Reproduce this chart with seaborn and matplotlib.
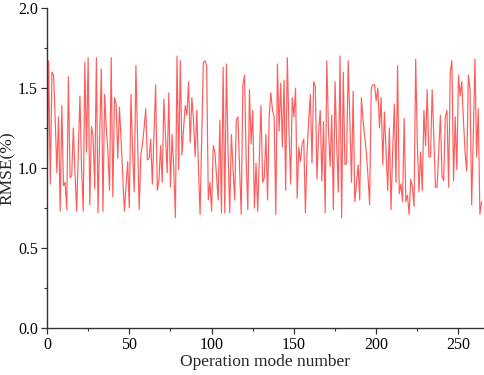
import matplotlib
matplotlib.use("Agg")
import matplotlib.pyplot as plt
import seaborn as sns
import numpy as np
import pandas as pd
from matplotlib.ticker import MultipleLocator

seg1 = [0.75, 1.67, 0.90, 1.60, 1.58, 1.30, 0.97, 1.32, 0.73, 1.39, 0.89, 0.91, 0.74, 1.57, 0.94, 0.95, 1.25, 0.98, 0.73, 1.10,
        1.45, 1.00, 0.73, 1.66, 1.10, 1.69, 0.77, 1.26, 1.20, 0.87, 1.69, 0.72, 1.20, 1.62]
seg2 = [0.73, 1.46, 1.25, 1.10, 0.86, 1.69, 0.82, 1.44, 1.40, 1.06, 1.38, 1.18, 0.95, 0.73, 0.88, 1.04, 0.75, 1.46, 1.10, 0.85,
        1.64, 1.20, 0.74, 1.08, 1.15, 1.25, 1.37, 1.05, 1.06, 1.18, 0.90, 1.20, 1.52]
seg3 = [0.86, 0.92, 1.14, 0.91, 1.43, 1.20, 0.97, 1.47, 0.88, 1.21, 1.00, 0.69, 1.70, 0.99, 1.67, 1.08, 1.25, 1.39, 1.33, 1.54,
        1.16, 1.44, 1.30, 1.07, 1.36, 1.00, 0.71, 1.20, 1.66, 1.67, 1.64, 0.80, 0.91]
seg4 = [0.73, 1.14, 1.10, 0.95, 0.80, 1.30, 0.72, 1.63, 0.72, 1.65, 1.10, 0.72, 1.21, 1.00, 0.80, 1.30, 1.32, 1.00, 0.71, 1.52,
        1.58, 1.05, 0.74, 1.49, 1.15, 1.36, 0.75, 1.03, 0.73, 1.05, 1.39, 0.91, 0.94]
seg5 = [1.21, 0.80, 1.33, 1.47, 1.36, 1.32, 0.71, 1.65, 1.23, 1.53, 1.13, 1.55, 0.86, 1.69, 1.25, 0.90, 1.44, 1.32, 1.50, 0.81,
        1.13, 1.04, 1.15, 1.18, 0.72, 1.10, 1.30, 1.46, 1.03, 1.54, 1.51, 0.93, 1.22]
seg6 = [1.36, 0.92, 1.29, 0.72, 1.67, 1.25, 1.01, 1.33, 0.74, 1.54, 1.15, 0.85, 1.70, 0.69, 1.60, 1.02, 1.03, 1.67, 1.30, 0.91,
        1.48, 0.79, 0.90, 1.02, 0.80, 1.44, 1.30, 1.20, 1.10, 0.95, 0.77, 1.50, 1.52]
seg7 = [1.52, 1.42, 1.50, 1.25, 1.44, 1.02, 1.35, 1.10, 0.86, 1.25, 0.74, 1.10, 1.40, 0.91, 1.64, 0.84, 0.90, 0.79, 1.31, 0.79,
        0.83, 0.71, 0.93, 0.88, 0.76, 1.68, 1.15, 0.85, 1.10, 0.86, 1.36, 1.14, 1.49, 1.07]
seg8 = [1.07, 1.49, 1.20, 0.88, 0.88, 1.10, 1.33, 0.95, 0.92, 1.32, 1.36, 0.88, 1.60, 1.67, 0.92, 1.32, 0.99, 1.58, 1.45, 1.54,
        1.30, 1.10, 0.98, 1.58, 1.49, 0.77, 1.20, 1.68, 1.07, 1.37, 0.71, 0.79]

rmse = seg1 + seg2 + seg3 + seg4 + seg5 + seg6 + seg7 + seg8
mode = list(range(len(rmse)))

df = pd.DataFrame({"mode": mode, "rmse": rmse})

sns.set_style("ticks")
plt.rcParams["font.family"] = ["Liberation Serif", "DejaVu Serif"]
plt.rcParams["xtick.direction"] = "out"
plt.rcParams["ytick.direction"] = "out"

fig = plt.figure(figsize=(4.84, 3.75), dpi=100)
ax = fig.add_axes([47/484, 47/375, 437/484, 320/375])

sns.lineplot(data=df, x="mode", y="rmse", ax=ax, color="#ff5c5c", linewidth=0.85)

ax.set_xlim(0, 265.5)
ax.set_ylim(0, 2.0)
ax.xaxis.set_major_locator(MultipleLocator(50))
ax.xaxis.set_minor_locator(MultipleLocator(25))
ax.yaxis.set_major_locator(MultipleLocator(0.5))
ax.yaxis.set_minor_locator(MultipleLocator(0.25))
ax.yaxis.set_major_formatter(matplotlib.ticker.FormatStrFormatter("%.1f"))
ax.tick_params(axis="both", which="major", length=4, width=0.9, labelsize=11.5,
               colors="#333333", labelcolor="black", pad=2.5)
ax.tick_params(axis="both", which="minor", length=2.5, width=0.8, colors="#333333")
for s in ["top", "right"]:
    ax.spines[s].set_visible(False)
for s in ["left", "bottom"]:
    ax.spines[s].set_linewidth(1.0)
    ax.spines[s].set_color("#333333")

ax.set_xlabel("Operation mode number", fontsize=12.5, labelpad=1)
ax.set_ylabel("RMSE(%)", fontsize=12.5)
ax.yaxis.set_label_coords(-0.072, 0.5)

fig.savefig("out.png", dpi=100)
